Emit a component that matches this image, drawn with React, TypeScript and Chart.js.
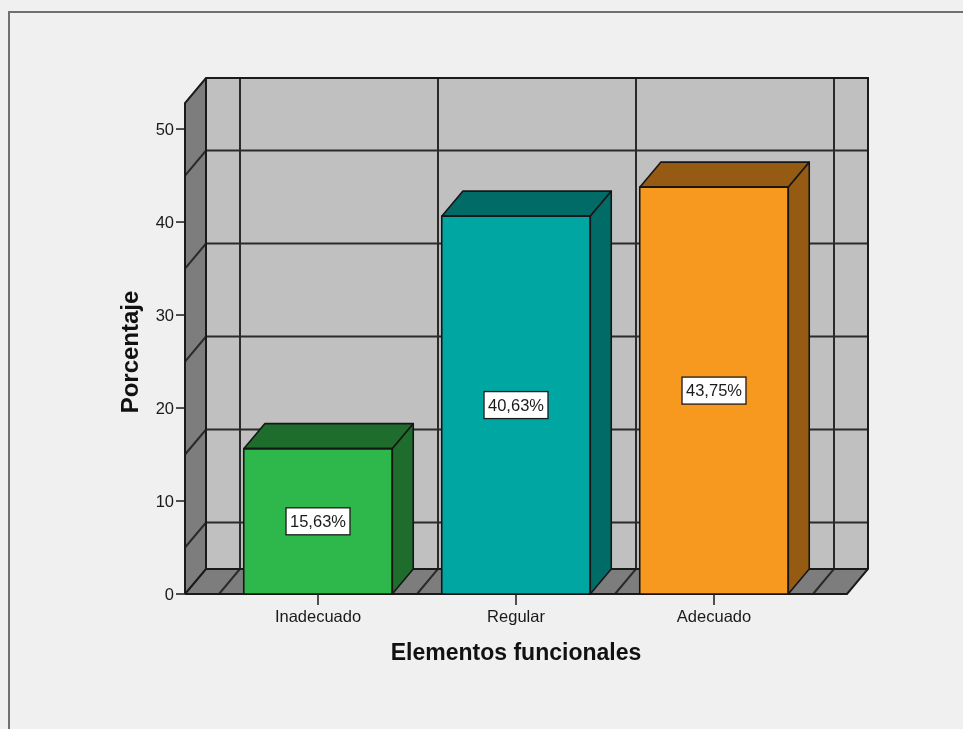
import React, { useEffect, useRef } from "react";
import { Chart, registerables } from "chart.js";

Chart.register(...registerables);

// Data
const categories = ["Inadecuado", "Regular", "Adecuado"];
const percentages = [15.63, 40.63, 43.75];
const yTicks = [0, 10, 20, 30, 40, 50];
const yGridValues = [5, 15, 25, 35, 45];
const yMax = 52.8;

// Styling
const frontColors = ["#2eb84b", "#00a6a1", "#f8991f"];
const shadeColors = ["#1e6d2d", "#006b67", "#965b13"];
const FONT = '"Liberation Sans", Arial, sans-serif';
const DEPTH_X = 21;
const DEPTH_Y = -25;
const WALL_PAD = 34;
const LINE = "#2a2a2a";

const formatPct = (v: number) => v.toFixed(2).replace(".", ",") + "%";

const box3d = {
  id: "box3d",
  beforeDraw(chart: any) {
    const { ctx, width, height } = chart;
    ctx.save();
    ctx.fillStyle = "#f0f0f0";
    ctx.fillRect(0, 0, width, height);
    ctx.strokeStyle = "#707070";
    ctx.lineWidth = 2;
    ctx.beginPath();
    ctx.moveTo(9, height);
    ctx.lineTo(9, 12);
    ctx.lineTo(width, 12);
    ctx.stroke();
    ctx.restore();
  },
  beforeDatasetsDraw(chart: any) {
    const { ctx, chartArea } = chart;
    const xs = chart.scales.x;
    const ys = chart.scales.y;
    const x0 = chartArea.left - WALL_PAD;
    const x1 = chartArea.right + WALL_PAD;
    const yb = ys.getPixelForValue(0);
    const yt = ys.getPixelForValue(yMax);
    const dx = DEPTH_X;
    const dy = DEPTH_Y;

    ctx.save();
    ctx.lineJoin = "miter";
    // back wall
    ctx.fillStyle = "#c0c0c0";
    ctx.fillRect(x0 + dx, yt + dy, x1 - x0, yb - yt);
    // side wall
    ctx.fillStyle = "#7d7d7d";
    ctx.beginPath();
    ctx.moveTo(x0, yb);
    ctx.lineTo(x0, yt);
    ctx.lineTo(x0 + dx, yt + dy);
    ctx.lineTo(x0 + dx, yb + dy);
    ctx.closePath();
    ctx.fill();
    // floor
    ctx.beginPath();
    ctx.moveTo(x0, yb);
    ctx.lineTo(x1, yb);
    ctx.lineTo(x1 + dx, yb + dy);
    ctx.lineTo(x0 + dx, yb + dy);
    ctx.closePath();
    ctx.fill();

    ctx.strokeStyle = LINE;
    ctx.lineWidth = 2;
    // horizontal grid: back wall + side wall diagonals
    for (const v of yGridValues) {
      const py = ys.getPixelForValue(v);
      ctx.beginPath();
      ctx.moveTo(x0, py);
      ctx.lineTo(x0 + dx, py + dy);
      ctx.lineTo(x1 + dx, py + dy);
      ctx.stroke();
    }
    // category boundaries: back wall verticals + floor diagonals
    for (let i = 0; i <= categories.length; i++) {
      const px = xs.getPixelForValue(i - 0.5);
      ctx.beginPath();
      ctx.moveTo(px, yb);
      ctx.lineTo(px + dx, yb + dy);
      ctx.lineTo(px + dx, yt + dy);
      ctx.stroke();
    }
    // box edges
    ctx.lineWidth = 2;
    ctx.strokeStyle = "#1a1a1a";
    ctx.beginPath();
    ctx.moveTo(x0, yb);
    ctx.lineTo(x0, yt);
    ctx.lineTo(x0 + dx, yt + dy);
    ctx.lineTo(x1 + dx, yt + dy);
    ctx.lineTo(x1 + dx, yb + dy);
    ctx.lineTo(x1, yb);
    ctx.lineTo(x0, yb);
    ctx.moveTo(x0 + dx, yt + dy);
    ctx.lineTo(x0 + dx, yb + dy);
    ctx.lineTo(x1 + dx, yb + dy);
    ctx.moveTo(x0 + dx, yb + dy);
    ctx.lineTo(x0, yb);
    ctx.stroke();
    ctx.restore();
  },
  afterDatasetsDraw(chart: any) {
    const { ctx } = chart;
    const meta = chart.getDatasetMeta(0);
    const dx = DEPTH_X;
    const dy = DEPTH_Y;
    ctx.save();
    ctx.strokeStyle = "#161616";
    ctx.lineWidth = 1.6;
    ctx.lineJoin = "round";
    meta.data.forEach((bar: any, i: number) => {
      const { x, y, base, width } = bar.getProps(["x", "y", "base", "width"], true);
      const l = x - width / 2;
      const r = x + width / 2;
      ctx.fillStyle = shadeColors[i];
      // top face
      ctx.beginPath();
      ctx.moveTo(l, y);
      ctx.lineTo(l + dx, y + dy);
      ctx.lineTo(r + dx, y + dy);
      ctx.lineTo(r, y);
      ctx.closePath();
      ctx.fill();
      ctx.stroke();
      // side face
      ctx.beginPath();
      ctx.moveTo(r, y);
      ctx.lineTo(r + dx, y + dy);
      ctx.lineTo(r + dx, base + dy);
      ctx.lineTo(r, base);
      ctx.closePath();
      ctx.fill();
      ctx.stroke();
      // front outline
      ctx.strokeRect(l, y, width, base - y);
    });
    ctx.restore();
  },
  afterDraw(chart: any) {
    const { ctx, chartArea } = chart;
    const xs = chart.scales.x;
    const ys = chart.scales.y;
    const x0 = chartArea.left - WALL_PAD;
    const x1 = chartArea.right + WALL_PAD;
    const yb = ys.getPixelForValue(0);
    ctx.save();
    ctx.fillStyle = "#1a1a1a";
    ctx.strokeStyle = "#1a1a1a";
    ctx.lineWidth = 1.5;

    // y axis ticks
    ctx.font = `16.5px ${FONT}`;
    ctx.textAlign = "right";
    ctx.textBaseline = "middle";
    for (const v of yTicks) {
      const py = ys.getPixelForValue(v);
      ctx.beginPath();
      ctx.moveTo(x0 - 9, py);
      ctx.lineTo(x0, py);
      ctx.stroke();
      ctx.fillText(String(v), x0 - 11, py + 1);
    }

    // category ticks
    ctx.textAlign = "center";
    categories.forEach((c, i) => {
      const px = xs.getPixelForValue(i);
      ctx.beginPath();
      ctx.moveTo(px, yb);
      ctx.lineTo(px, yb + 11);
      ctx.stroke();
      ctx.fillText(c, px, yb + 23);
    });

    // value labels
    const meta = chart.getDatasetMeta(0);
    meta.data.forEach((bar: any, i: number) => {
      const { x } = bar.getProps(["x"], true);
      const py = ys.getPixelForValue(percentages[i] / 2);
      const text = formatPct(percentages[i]);
      ctx.font = `16.5px ${FONT}`;
      const w = ctx.measureText(text).width + 8;
      const h = 27;
      ctx.fillStyle = "#ffffff";
      ctx.fillRect(x - w / 2, py - h / 2, w, h);
      ctx.lineWidth = 1.3;
      ctx.strokeRect(x - w / 2, py - h / 2, w, h);
      ctx.fillStyle = "#1a1a1a";
      ctx.fillText(text, x, py + 1);
    });

    // axis titles
    ctx.fillStyle = "#111111";
    ctx.font = `bold 23px ${FONT}`;
    ctx.fillText("Elementos funcionales", (x0 + x1) / 2, 654);
    ctx.save();
    ctx.translate(131, 352);
    ctx.rotate(-Math.PI / 2);
    ctx.font = `bold 24px ${FONT}`;
    ctx.fillText("Porcentaje", 0, 0);
    ctx.restore();
    ctx.restore();
  },
};

export default function App() {
  const canvasRef = useRef<HTMLCanvasElement | null>(null);

  useEffect(() => {
    if (!canvasRef.current) return;
    const chart = new Chart(canvasRef.current, {
      type: "bar",
      data: {
        labels: categories,
        datasets: [
          {
            data: percentages,
            backgroundColor: frontColors,
            borderWidth: 0,
            barPercentage: 0.75,
            categoryPercentage: 1,
          },
        ],
      },
      options: {
        animation: false,
        responsive: false,
        maintainAspectRatio: false,
        devicePixelRatio: 1,
        layout: { padding: { left: 219, right: 150, top: 103, bottom: 135 } },
        plugins: {
          legend: { display: false },
          tooltip: { enabled: false },
          title: { display: false },
        },
        scales: {
          x: { display: false, offset: true },
          y: { display: false, min: 0, max: yMax },
        },
      },
      plugins: [box3d],
    });
    return () => chart.destroy();
  }, []);

  return (
    <div style={{ position: "absolute", left: 0, top: 0, width: 963, height: 729, background: "#f0f0f0" }}>
      <canvas ref={canvasRef} width={963} height={729} style={{ display: "block" }} />
    </div>
  );
}
